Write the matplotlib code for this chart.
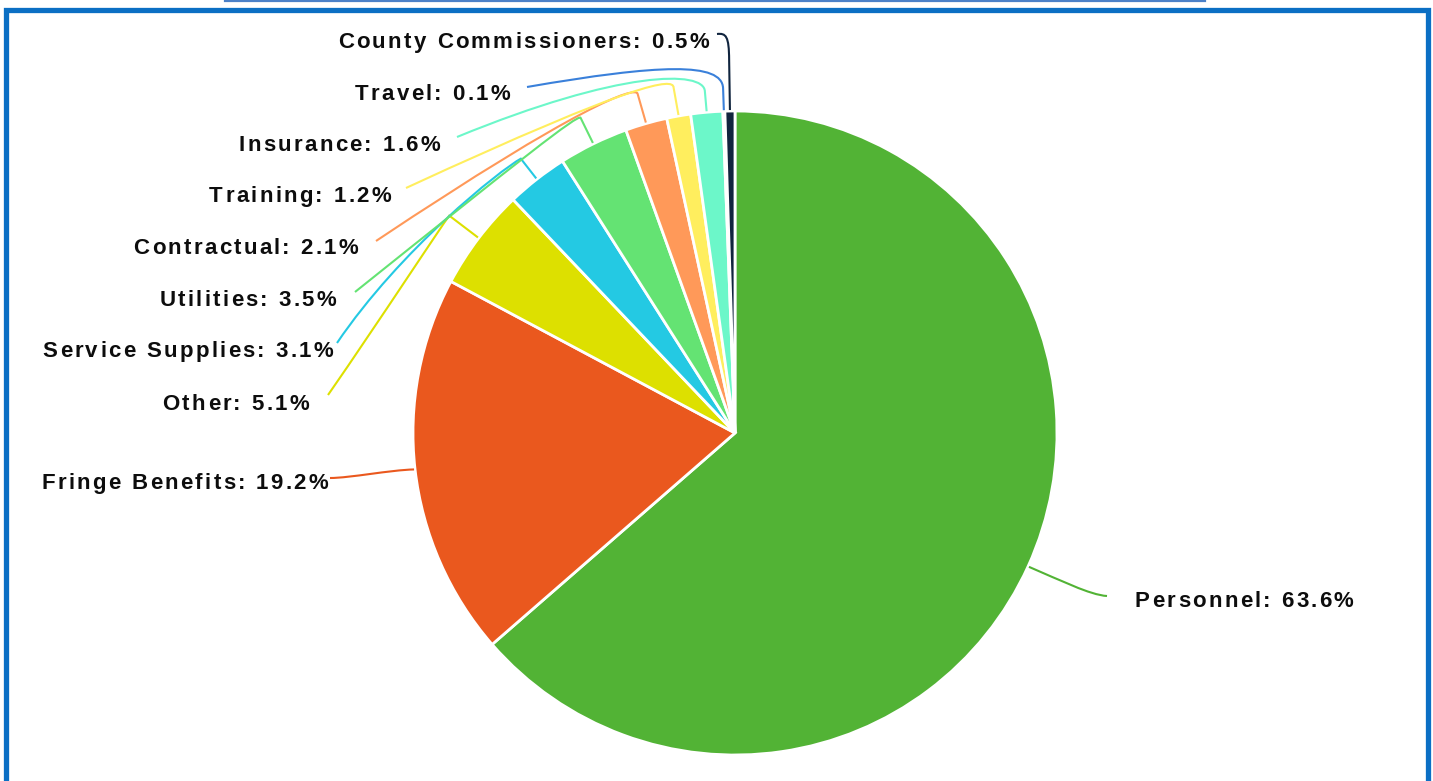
import numpy as np
import matplotlib.pyplot as plt
from matplotlib.path import Path
from matplotlib.patches import PathPatch
from matplotlib.font_manager import FontProperties
from matplotlib.textpath import text_to_path

# Anteile in Prozent, im Uhrzeigersinn ab 12 Uhr
categories = ["Personnel", "Fringe Benefits", "Other", "Service Supplies", "Utilities",
              "Contractual", "Training", "Insurance", "Travel", "County Commissioners"]
values = [63.6, 19.2, 5.1, 3.1, 3.5, 2.1, 1.2, 1.6, 0.1, 0.5]
colors = ["#52b335", "#ea581e", "#dde000", "#24c9e3", "#64e373",
          "#ff9959", "#ffee5e", "#6cf7c9", "#3a80da", "#10243e"]

W, H, DPI = 1433, 781, 100
CX, CY, R = 735, 433, 322

# Beschriftung (Pixel): x-Anker, Grundlinie
label_x = [1135, 328, 309, 333, 336, 358, 391, 440, 510, 709]
label_y = [607, 489, 409.5, 357, 305.5, 254, 202, 151, 99.5, 48]
# Führungslinien: radialer Stummel, zwei Bezier-Kontrollpunkte, Endpunkt
stub = [0, 0, 36, 25, 28, 30, 28, 20, 22, 50]
ctrl1 = [(1060, 580), (390, 470), (440, 228), (500, 170), (578, 114),
         (635, 86), (673, 78), (704, 70), (722, 62), (729, 36)]
ctrl2 = [(1090, 595), (350, 478), (380, 320), (400, 250), (520, 160),
         (580, 105), (640, 80), (620, 70), (660, 64), (726, 33)]
line_end = [(1107, 596), (330, 478), (328, 395), (337, 343), (355, 292),
            (376, 241), (406, 188), (457, 137), (527, 87), (717, 34)]

fig = plt.figure(figsize=(W / DPI, H / DPI), dpi=DPI)
ax = fig.add_axes([0, 0, 1, 1])

# y-Achse nach unten -> counterclock=True ergibt optisch Uhrzeigersinn
ax.pie(values, colors=colors, startangle=-90, counterclock=True, radius=R,
       center=(CX, CY), wedgeprops=dict(edgecolor="white", linewidth=2))
ax.set_xlim(0, W)
ax.set_ylim(H, 0)
ax.set_aspect("equal")
ax.axis("off")

fp = FontProperties(family="Liberation Sans", weight="bold", size=16)
TRACK = 2.3


def adv(ch):
    a = text_to_path.get_text_width_height_descent("I" + ch + "I", fp, ismath=False)[0]
    b = text_to_path.get_text_width_height_descent("II", fp, ismath=False)[0]
    return (a - b) * DPI / 72


def spaced_text(x, y, s, ha):
    ws = [adv(c) for c in s]
    total = sum(ws) + TRACK * (len(s) - 1)
    x0 = x - total if ha == "right" else x
    for c, w in zip(s, ws):
        ax.text(x0, y, c, fontproperties=fp, color="#0d0d0d", ha="left", va="baseline")
        x0 += w + TRACK


cum = np.cumsum([0] + values[:-1])
total = sum(values)
for i, name in enumerate(categories):
    th = np.deg2rad(-90 + 360 * (cum[i] + values[i] / 2) / total)
    u = np.array([np.cos(th), np.sin(th)])
    p0 = np.array([CX, CY]) + u * (R + 1)
    b = p0 + u * stub[i]
    verts = [p0, b, ctrl1[i], ctrl2[i], line_end[i]]
    codes = [Path.MOVETO, Path.LINETO, Path.CURVE4, Path.CURVE4, Path.CURVE4]
    ax.add_patch(PathPatch(Path(verts, codes), fill=False, edgecolor=colors[i], lw=1.5))

    ha = "left" if i == 0 else "right"
    spaced_text(label_x[i], label_y[i], f"{name}: {values[i]}%", ha)

# Rahmen
ax.plot([6, 6, 1428, 1428], [800, 9.5, 9.5, 800], color="#0b6fc4", lw=3.8,
        clip_on=False, solid_joinstyle="miter")
ax.plot([225, 1205], [0.8, 0.8], color="#4a80c8", lw=1.6, clip_on=False)

fig.savefig("out.png", dpi=DPI)
